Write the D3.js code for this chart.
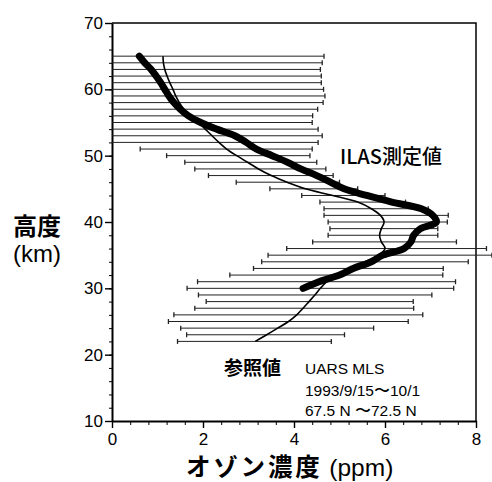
<!DOCTYPE html>
<html>
<head>
<meta charset="utf-8">
<script src="https://cdn.jsdelivr.net/npm/d3@7/dist/d3.min.js"></script>
<style>
body { margin: 0; background: #fff; }
svg text { font-family: "Liberation Sans", Arial, sans-serif; fill: #000; }
.jp { font-family: "Noto Sans CJK JP", sans-serif; }
</style>
</head>
<body>
<div id="chart"></div>
<script>
// UARS MLS reference profile: altitude (km), mean and +/- range (ppm)
var mlsAltitude = [65,64,63,62,61,60,59,58,57,56,55,54,53,52,51,50,49,48,47,46,45,44,43,42,41,40,39,38,37,36,35,34,33,32,31,30,29,28,27,26,25,24,23,22];
var mlsLow  = [0,0,0,0,0,0,0,0,0,0,0,0,0,0,0.62,1.2,1.6,1.82,2.12,2.73,3.47,4.17,4.57,4.66,4.66,4.75,4.79,4.75,4.41,3.84,3.43,3.29,3.11,2.59,1.88,1.65,1.9,2.07,1.82,1.36,1.24,1.51,1.64,1.44];
var mlsHigh = [4.66,4.62,4.58,4.6,4.6,4.65,4.68,4.64,4.52,4.41,4.4,4.53,4.62,4.53,4.4,4.35,4.5,4.7,4.86,5.0,5.4,6.0,6.45,6.95,7.39,7.37,7.16,7.16,7.57,8.23,8.35,7.83,7.28,7.27,7.55,7.51,7.03,6.62,6.63,6.83,6.51,5.75,5.11,4.82];
var mlsMean = [1.12,1.13,1.16,1.21,1.27,1.34,1.4,1.48,1.58,1.72,1.9,2.05,2.2,2.35,2.52,2.74,2.98,3.22,3.5,3.85,4.25,4.85,5.4,5.7,5.9,5.98,5.92,5.88,5.92,6.0,5.85,5.55,5.2,4.93,4.72,4.58,4.46,4.33,4.2,4.06,3.88,3.64,3.4,3.15];

// ILAS measured profile
var ilasAltitude = [65,64,63,62,61,60,59,58,57,56,55,54,53,52,51,50,49,48,47,46,45,44,43,42,41,40,39,38,37,36,35,34,33,32,31,30];
var ilasValue = [0.6,0.72,0.86,0.97,1.07,1.16,1.25,1.36,1.5,1.68,1.95,2.3,2.7,2.95,3.17,3.52,3.86,4.15,4.5,4.8,5.1,5.6,6.15,6.8,7.05,7.13,6.78,6.63,6.57,6.42,5.95,5.7,5.3,5.0,4.55,4.2];

// tick labels
var xTicks = [0, 2, 4, 6, 8];
var yTicks = [10, 20, 30, 40, 50, 60, 70];

var width = 492, height = 482;

var svg = d3.select("#chart")
	.append("svg")
	.attr("width", width)
	.attr("height", height);

var x = d3.scaleLinear().domain([0, 8]).range([112, 476]);
var y = d3.scaleLinear().domain([10, 70]).range([421, 23]);

// frame (top + right)
svg.append("path")
	.attr("d", "M" + x(0) + "," + y(70) + "H" + x(8) + "V" + y(10))
	.attr("fill", "none")
	.attr("stroke", "#000")
	.attr("stroke-width", 1.5);

// minor ticks
svg.append("g")
	.attr("transform", "translate(" + x(0) + ",0)")
	.call(d3.axisLeft(y).tickValues(d3.range(10, 70.1, 2)).tickSize(3).tickFormat(""))
	.call(g => g.select(".domain").remove());
svg.append("g")
	.attr("transform", "translate(0," + y(10) + ")")
	.call(d3.axisBottom(x).tickValues(d3.range(0, 8.01, 0.4)).tickSize(4).tickFormat(""))
	.call(g => g.select(".domain").remove());

// major axes
var yAxis = svg.append("g")
	.attr("transform", "translate(" + x(0) + ",0)")
	.call(d3.axisLeft(y).tickValues(yTicks).tickSize(7).tickPadding(2).tickSizeOuter(0));
var xAxis = svg.append("g")
	.attr("transform", "translate(0," + y(10) + ")")
	.call(d3.axisBottom(x).tickValues(xTicks).tickSize(7).tickPadding(5).tickSizeOuter(0));

[yAxis, xAxis].forEach(function(g){
	g.select(".domain").attr("stroke-width", 2);
	g.selectAll(".tick line").attr("stroke-width", 1.4);
	g.selectAll("text").attr("font-size", 17).attr("fill", "#000")
		.style("font-family", "'Liberation Sans', Arial, sans-serif");
});
svg.selectAll("g .tick line").attr("stroke", "#000");

// error bars of the reference
var bars = svg.append("g")
	.attr("stroke", "#222")
	.attr("fill", "none");

mlsAltitude.forEach(function(a, i){
	bars.append("line")
		.attr("x1", x(mlsLow[i])).attr("x2", x(mlsHigh[i]))
		.attr("y1", y(a)).attr("y2", y(a))
		.attr("stroke-width", 1);
	if (mlsLow[i] > 0) {
		bars.append("line")
			.attr("x1", x(mlsLow[i])).attr("x2", x(mlsLow[i]))
			.attr("y1", y(a) - 2.5).attr("y2", y(a) + 2.5)
			.attr("stroke-width", 1.3);
	}
	bars.append("line")
		.attr("x1", x(mlsHigh[i])).attr("x2", x(mlsHigh[i]))
		.attr("y1", y(a) - 2.5).attr("y2", y(a) + 2.5)
		.attr("stroke-width", 1.3);
});

// thin line: reference mean
var line = d3.line()
	.x(d => x(d[1]))
	.y(d => y(d[0]))
	.curve(d3.curveCatmullRom);

svg.append("path")
	.datum(mlsAltitude.map((a, i) => [a, mlsMean[i]]))
	.attr("d", line)
	.attr("fill", "none")
	.attr("stroke", "#000")
	.attr("stroke-width", 1.6);

// thick line: ILAS
svg.append("path")
	.datum(ilasAltitude.map((a, i) => [a, ilasValue[i]]))
	.attr("d", line)
	.attr("fill", "none")
	.attr("stroke", "#000")
	.attr("stroke-width", 7)
	.attr("stroke-linecap", "round")
	.attr("stroke-linejoin", "round");

// annotations
svg.append("text").attr("class", "jp")
	.attr("x", 340).attr("y", 164)
	.attr("font-size", 20)
	.attr("font-weight", 500)
	.text("ILAS測定値");

svg.append("text").attr("class", "jp")
	.attr("x", 224).attr("y", 375)
	.attr("font-size", 19)
	.attr("font-weight", "bold")
	.text("参照値");

var note = svg.append("text")
	.attr("font-size", 15.5);
note.append("tspan").attr("x", 305).attr("y", 374).text("UARS MLS");
note.append("tspan").attr("x", 305).attr("y", 396).text("1993/9/15〜10/1");
note.append("tspan").attr("x", 305).attr("y", 416).text("67.5 N 〜72.5 N");

// axis titles
var xt = svg.append("text")
	.attr("x", 186).attr("y", 476)
	.attr("font-size", 24.5);
xt.append("tspan").attr("class", "jp").attr("font-weight", "bold")
	.attr("letter-spacing", 2.8).text("オゾン濃度");
xt.append("tspan").text(" (ppm)");

svg.append("text").attr("class", "jp")
	.attr("x", 13).attr("y", 235)
	.attr("font-size", 24)
	.attr("font-weight", "bold")
	.text("高度");
svg.append("text")
	.attr("x", 13).attr("y", 262)
	.attr("font-size", 24)
	.text("(km)");
</script>
</body>
</html>
